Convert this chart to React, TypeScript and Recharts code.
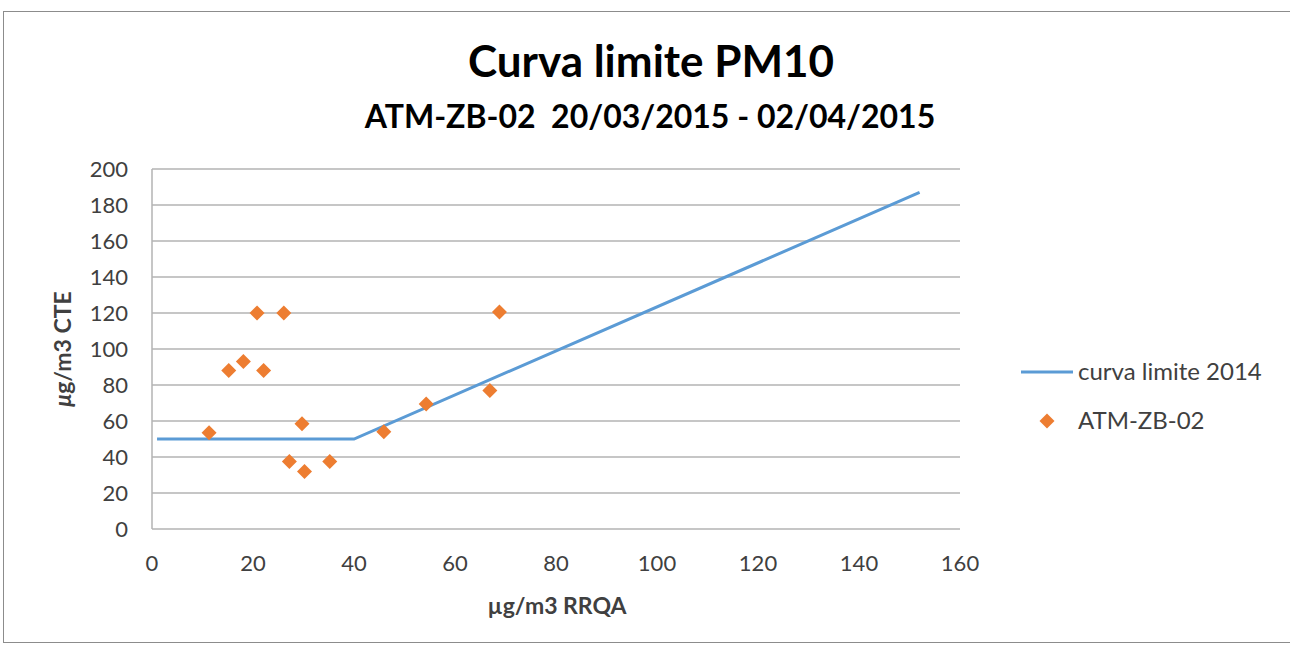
import React from 'react';
import { ScatterChart, Scatter, XAxis, YAxis, CartesianGrid } from 'recharts';

// curva limite 2014 (x: RRQA, y: CTE)
const limitX = [1, 40, 152];
const limitY = [50, 50, 187];

// campionamenti ATM-ZB-02
const stationX = [11.3, 15.2, 18.1, 20.8, 22.1, 26.1, 27.2, 29.7, 30.2, 35.2, 45.9, 54.3, 66.9, 68.8];
const stationY = [53.5, 88, 93, 120, 88, 120, 37.5, 58.5, 32, 37.5, 54, 69.5, 77, 120.5];

const xTicks = [0, 20, 40, 60, 80, 100, 120, 140, 160];
const yTicks = [0, 20, 40, 60, 80, 100, 120, 140, 160, 180, 200];

const limitData = limitX.map((x, i) => ({ x, y: limitY[i] }));
const stationData = stationX.map((x, i) => ({ x, y: stationY[i] }));

const BLUE = '#5b9bd5';
const ORANGE = '#ed7d31';
const FONT = 'Lato, "Open Sans", sans-serif';

const Diamond = (props: any) => {
  const { cx, cy } = props;
  if (cx == null || cy == null) return <g />;
  const r = 7.5;
  return (
    <polygon
      points={`${cx},${cy - r} ${cx + r},${cy} ${cx},${cy + r} ${cx - r},${cy}`}
      fill={ORANGE}
    />
  );
};

const NoDot = () => <g />;

export default function App() {
  return (
    <div style={{ position: 'absolute', left: 0, top: 0, width: 1290, height: 649, background: '#fff', fontFamily: FONT, overflow: 'hidden' }}>
      <div style={{ position: 'absolute', left: 3, top: 11, width: 1300, height: 630, border: '1px solid #8c8c8c' }} />
      <div style={{ position: 'absolute', left: 0, top: 34, width: 1302, textAlign: 'center', fontSize: 44, fontWeight: 700, color: '#000' }}>
        Curva limite PM10
      </div>
      <div style={{ position: 'absolute', left: 0, top: 96, width: 1300, textAlign: 'center', fontSize: 32, fontWeight: 700, color: '#000', whiteSpace: 'pre' }}>
        ATM-ZB-02  20/03/2015 - 02/04/2015
      </div>

      <div style={{ position: 'absolute', left: 0, top: 0 }}>
        <ScatterChart width={1290} height={649} margin={{ top: 169, right: 330, bottom: 80, left: 92 }}>
          <CartesianGrid vertical={false} stroke="#b3b3b3" strokeWidth={1.5} />
          <XAxis
            type="number"
            dataKey="x"
            domain={[0, 160]}
            ticks={xTicks}
            axisLine={false}
            tickLine={false}
            tickSize={0}
            tickMargin={26}
            height={40}
            tick={{ fill: '#404040', fontSize: 22, fontFamily: FONT }}
          />
          <YAxis
            type="number"
            dataKey="y"
            domain={[0, 200]}
            ticks={yTicks}
            axisLine={{ stroke: '#b3b3b3', strokeWidth: 1.5 }}
            tickLine={false}
            tickSize={0}
            tickMargin={24}
            width={60}
            tick={{ fill: '#404040', fontSize: 22, fontFamily: FONT }}
          />
          <Scatter
            name="curva limite 2014"
            data={limitData}
            line={{ stroke: BLUE, strokeWidth: 3 }}
            lineType="joint"
            shape={NoDot}
            isAnimationActive={false}
          />
          <Scatter
            name="ATM-ZB-02"
            data={stationData}
            shape={Diamond}
            isAnimationActive={false}
          />
        </ScatterChart>
      </div>

      <div style={{ position: 'absolute', left: 457, top: 591, width: 200, textAlign: 'center', fontSize: 23, fontWeight: 700, color: '#404040', whiteSpace: 'nowrap' }}>
        µg/m3 RRQA
      </div>
      <div style={{ position: 'absolute', left: 62, top: 349, transform: 'translate(-50%, -50%) rotate(-90deg)', fontSize: 23, fontWeight: 700, color: '#404040', whiteSpace: 'nowrap' }}>
        <i>μ</i>g/m3 CTE
      </div>

      <svg style={{ position: 'absolute', left: 1015, top: 355 }} width={65} height={80}>
        <line x1={6} y1={17} x2={58} y2={17} stroke={BLUE} strokeWidth={3} />
        <polygon points="32,58.5 39.5,66 32,73.5 24.5,66" fill={ORANGE} />
      </svg>
      <div style={{ position: 'absolute', left: 1078, top: 356, fontSize: 24, color: '#404040', whiteSpace: 'nowrap' }}>curva limite 2014</div>
      <div style={{ position: 'absolute', left: 1078, top: 405, fontSize: 24, color: '#404040', whiteSpace: 'nowrap' }}>ATM-ZB-02</div>
    </div>
  );
}
